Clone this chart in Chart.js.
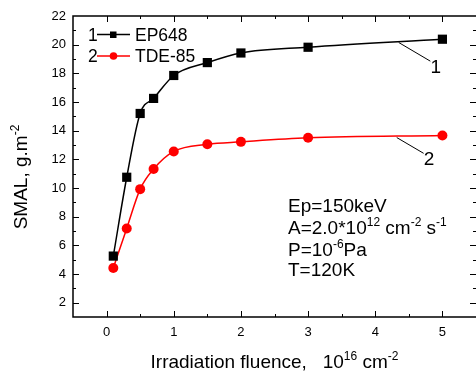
<!DOCTYPE html>
<html>
<head>
<meta charset="utf-8">
<script src="https://cdn.jsdelivr.net/npm/chart.js@4/dist/chart.umd.min.js"></script>
<style>
html,body{margin:0;padding:0;background:#fff;}
#wrap{width:476px;height:371px;position:relative;}
</style>
</head>
<body>
<div id="wrap"><canvas id="c"></canvas></div>
<script>
// ---- data ----
const fluence = [0.1, 0.3, 0.5, 0.7, 1, 1.5, 2, 3, 5];
const ep648  = [5.25, 10.75, 15.2, 16.25, 17.85, 18.75, 19.42, 19.82, 20.38];
const tde85  = [4.42, 7.18, 9.92, 11.32, 12.55, 13.05, 13.22, 13.5, 13.66];
const xTicks = [0, 1, 2, 3, 4, 5];
const yTicks = [2, 4, 6, 8, 10, 12, 14, 16, 18, 20, 22];
const xMinor = [-0.5, 0.5, 1.5, 2.5, 3.5, 4.5, 5.5];
const yMinor = [1, 3, 5, 7, 9, 11, 13, 15, 17, 19, 21];

const FONT = '"Liberation Sans", Arial, Helvetica, sans-serif';

function richWidth(ctx, parts, size) {
  let w = 0;
  for (const p of parts) {
    ctx.font = (p[1] ? Math.round(size * 0.62) : size) + 'px ' + FONT;
    w += ctx.measureText(p[0]).width;
  }
  return w;
}
function drawRich(ctx, x, y, parts, size) {
  let cx = x;
  ctx.textAlign = 'left';
  ctx.textBaseline = 'alphabetic';
  for (const p of parts) {
    const s = p[1] ? Math.round(size * 0.62) : size;
    ctx.font = s + 'px ' + FONT;
    ctx.fillText(p[0], cx, p[1] ? y - size * 0.42 : y);
    cx += ctx.measureText(p[0]).width;
  }
}

const decor = {
  id: 'decor',
  afterDatasetsDraw(chart) {
    const ctx = chart.ctx;
    const a = chart.chartArea;
    const xs = chart.scales.x, ys = chart.scales.y;
    ctx.save();
    ctx.strokeStyle = '#000';
    ctx.fillStyle = '#000';
    // frame (right border lies at the canvas edge)
    ctx.lineWidth = 1.5;
    ctx.beginPath();
    ctx.moveTo(a.right + 2, a.top); ctx.lineTo(a.left, a.top);
    ctx.lineTo(a.left, a.bottom); ctx.lineTo(a.right + 2, a.bottom);
    ctx.stroke();
    // ticks (inward)
    ctx.lineWidth = 1;
    ctx.beginPath();
    const tick = (arr, len) => {
      for (const v of arr) {
        const px = Math.round(xs.getPixelForValue(v)) + 0.5;
        if (px < a.left + 1 || px > a.right - 1) continue;
        ctx.moveTo(px, a.bottom); ctx.lineTo(px, a.bottom - len);
        ctx.moveTo(px, a.top); ctx.lineTo(px, a.top + len);
      }
    };
    const tickY = (arr, len) => {
      for (const v of arr) {
        const py = Math.round(ys.getPixelForValue(v)) + 0.5;
        if (py < a.top + 1 || py > a.bottom - 1) continue;
        ctx.moveTo(a.left, py); ctx.lineTo(a.left + len, py);
        ctx.moveTo(a.right, py); ctx.lineTo(a.right - len, py);
      }
    };
    tick(xTicks, 6); tick(xMinor, 3);
    tickY(yTicks, 6); tickY(yMinor, 3);
    ctx.stroke();

    // legend
    const lf = 17.5;
    ctx.font = lf + 'px ' + FONT;
    ctx.textBaseline = 'alphabetic';
    ctx.textAlign = 'left';
    ctx.fillText('1', 88, 40.5);
    ctx.fillText('EP648', 135, 40.5);
    ctx.fillText('2', 88, 62);
    ctx.fillText('TDE-85', 135, 62);
    ctx.lineWidth = 1.5;
    ctx.strokeStyle = '#000';
    ctx.beginPath(); ctx.moveTo(97, 34.5); ctx.lineTo(130, 34.5); ctx.stroke();
    ctx.fillRect(110, 31.5, 6.5, 6.5);
    ctx.strokeStyle = '#ff0000';
    ctx.fillStyle = '#ff0000';
    ctx.beginPath(); ctx.moveTo(97, 56); ctx.lineTo(130, 56); ctx.stroke();
    ctx.beginPath(); ctx.arc(113.5, 56, 3.8, 0, Math.PI * 2); ctx.fill();

    // curve labels with leader lines
    ctx.strokeStyle = '#000';
    ctx.fillStyle = '#000';
    ctx.lineWidth = 1;
    const P = (x, y) => [xs.getPixelForValue(x), ys.getPixelForValue(y)];
    let p1 = P(4.35, 20.15), p2 = P(4.82, 18.85);
    ctx.beginPath(); ctx.moveTo(p1[0], p1[1]); ctx.lineTo(p2[0], p2[1]); ctx.stroke();
    p1 = P(4.32, 13.52); p2 = P(4.72, 12.42);
    ctx.beginPath(); ctx.moveTo(p1[0], p1[1]); ctx.lineTo(p2[0], p2[1]); ctx.stroke();
    ctx.font = '19px ' + FONT;
    ctx.textAlign = 'center';
    let t = P(4.9, 18.02); ctx.fillText('1', t[0], t[1]);
    t = P(4.8, 11.6); ctx.fillText('2', t[0], t[1]);

    // conditions text
    const fs = 19;
    drawRich(ctx, 288, 211.5, [['Ep=150keV']], fs);
    drawRich(ctx, 288, 233.5, [['A=2.0*10'], ['12', 1], [' cm'], ['-2', 1], [' s'], ['-1', 1]], fs);
    drawRich(ctx, 288, 255.5, [['P=10'], ['-6', 1], ['Pa']], fs);
    drawRich(ctx, 288, 275.5, [['T=120K']], fs);

    // x title
    const xt = [['Irradiation fluence,   10'], ['16', 1], [' cm'], ['-2', 1]];
    const xw = richWidth(ctx, xt, fs);
    drawRich(ctx, (a.left + a.right) / 2 - xw / 2, 367.5, xt, fs);

    // y title
    const yt = [['SMAL, g.m'], ['-2', 1]];
    const yw = richWidth(ctx, yt, fs);
    ctx.save();
    ctx.translate(27, 177);
    ctx.rotate(-Math.PI / 2);
    drawRich(ctx, -yw / 2, 0, yt, fs);
    ctx.restore();

    ctx.restore();
  }
};

new Chart(document.getElementById('c'), {
  type: 'line',
  data: {
    labels: fluence,
    datasets: [
      {
        label: 'EP648',
        data: fluence.map((x, i) => ({ x: x, y: ep648[i] })),
        borderColor: '#000',
        backgroundColor: '#000',
        borderWidth: 1.5,
        pointStyle: 'rect',
        pointRadius: 6.5,
        pointBorderWidth: 0,
        cubicInterpolationMode: 'monotone',
        fill: false
      },
      {
        label: 'TDE-85',
        data: fluence.map((x, i) => ({ x: x, y: tde85[i] })),
        borderColor: '#ff0000',
        backgroundColor: '#ff0000',
        borderWidth: 1.5,
        pointStyle: 'circle',
        pointRadius: 5,
        pointBorderWidth: 0,
        cubicInterpolationMode: 'monotone',
        fill: false
      }
    ]
  },
  options: {
    responsive: true,
    maintainAspectRatio: false,
    animation: false,
    layout: { autoPadding: false, padding: { top: 16, right: 0, left: 0, bottom: 0 } },
    plugins: { legend: { display: false }, tooltip: { enabled: false } },
    scales: {
      x: {
        type: 'linear',
        min: -0.5,
        max: 5.5,
        grid: { display: false, drawTicks: false },
        border: { display: false },
        afterBuildTicks: s => { s.ticks = xTicks.map(v => ({ value: v })); },
        afterFit: s => { s.height = 54; },
        ticks: { color: '#000', padding: 8, font: { family: FONT, size: 13 }, maxRotation: 0 }
      },
      y: {
        type: 'linear',
        min: 1,
        max: 22,
        grid: { display: false, drawTicks: false },
        border: { display: false },
        afterBuildTicks: s => { s.ticks = yTicks.map(v => ({ value: v })); },
        afterFit: s => { s.width = 73; },
        ticks: { color: '#000', padding: 7, font: { family: FONT, size: 13 } }
      }
    }
  },
  plugins: [decor]
});
</script>
</body>
</html>
